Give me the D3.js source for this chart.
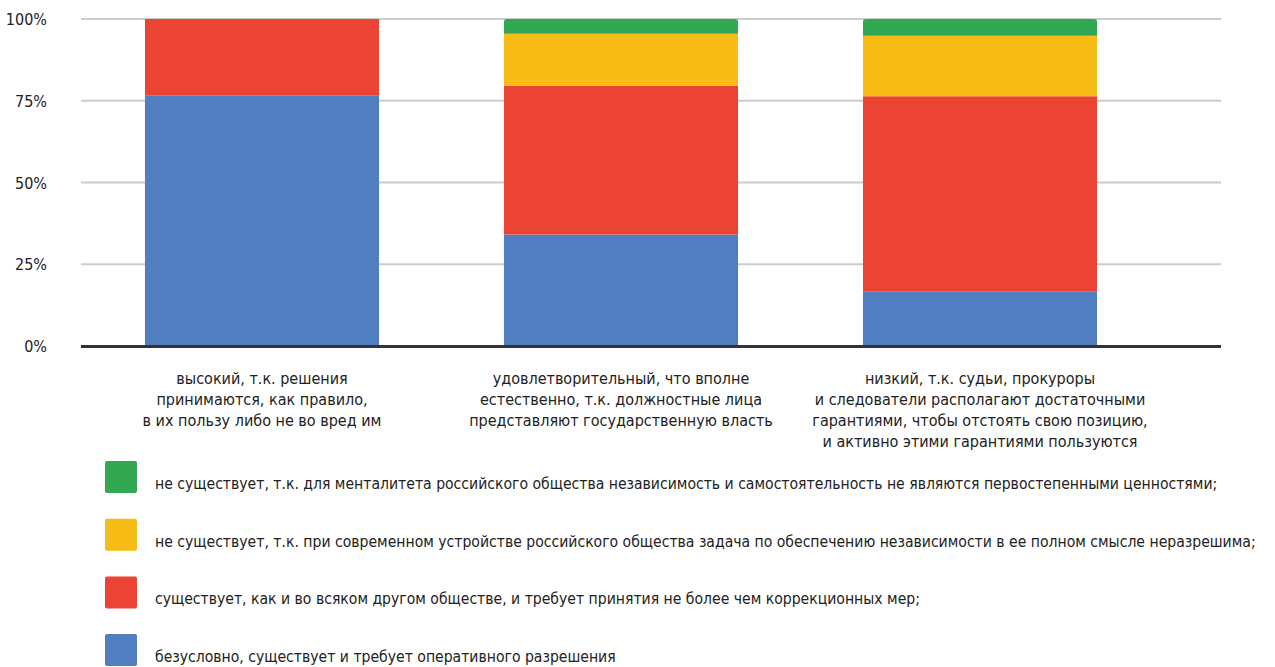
<!DOCTYPE html>
<html>
<head>
<meta charset="utf-8">
<script src="https://cdn.jsdelivr.net/npm/d3@7"></script>
<style>
  body { margin: 0; background: #fff; }
  text { font-family: "DejaVu Sans Condensed", "Liberation Sans Narrow", "Roboto", sans-serif; fill: #222; }
</style>
</head>
<body>
<div id="chart"></div>
<script>
// Data
var categories = ["c1", "c2", "c3"];
var categoryLabels = [
  ["высокий, т.к. решения", "принимаются, как правило,", "в их пользу либо не во вред им"],
  ["удовлетворительный, что вполне", "естественно, т.к. должностные лица", "представляют государственную власть"],
  ["низкий, т.к. судьи, прокуроры", "и следователи располагают достаточными", "гарантиями, чтобы отстоять свою позицию,", "и активно этими гарантиями пользуются"]
];
var blueValues = [76.7, 34.1, 16.6];
var redValues = [23.3, 45.5, 59.8];
var yellowValues = [0, 15.9, 18.5];
var greenValues = [0, 4.5, 5.1];
var seriesNames = [
  "безусловно, существует и требует оперативного разрешения",
  "существует, как и во всяком другом обществе, и требует принятия не более чем коррекционных мер;",
  "не существует, т.к. при современном устройстве российского общества задача по обеспечению независимости в ее полном смысле неразрешима;",
  "не существует, т.к. для менталитета российского общества независимость и самостоятельность не являются первостепенными ценностями;"
];
var seriesColors = ["#517ec1", "#eb4334", "#f8bc17", "#33a853"];
var yTicks = [0, 25, 50, 75, 100];

var width = 1275, height = 667;

var svg = d3.select("#chart").append("svg")
  .attr("width", width)
  .attr("height", height);

// build stack table
var table = categories.map(function(c, i) {
  return { cat: c, s0: blueValues[i], s1: redValues[i], s2: yellowValues[i], s3: greenValues[i] };
});
var keys = ["s0", "s1", "s2", "s3"];
var stacked = d3.stack().keys(keys)(table);

var x_scale = d3.scaleBand()
  .domain(categories)
  .range([82.5, 1159.5])
  .paddingInner(0.348)
  .paddingOuter(0.174);

var y_scale = d3.scaleLinear()
  .domain([0, 100])
  .range([346, 19]);

// gridlines
svg.append("g")
  .selectAll("line")
  .data(yTicks.filter(function(d) { return d > 0; }))
  .enter()
  .append("line")
  .attr("x1", 81)
  .attr("x2", 1221)
  .attr("y1", function(d) { return y_scale(d); })
  .attr("y2", function(d) { return y_scale(d); })
  .attr("stroke", "#cccccc")
  .attr("stroke-width", 2);

// y axis labels
var yaxis = d3.axisLeft(y_scale)
  .tickValues(yTicks)
  .tickSize(0)
  .tickPadding(0)
  .tickFormat(function(d) { return d + "%"; });

svg.append("g")
  .attr("transform", "translate(47,0)")
  .call(yaxis)
  .call(function(g) { g.select(".domain").remove(); })
  .selectAll("text")
  .attr("font-size", 16)
  .attr("dy", "0.35em")
  .style("font-family", "'DejaVu Sans Condensed', sans-serif")
  .attr("fill", "#222");

// bars
var layers = svg.append("g")
  .selectAll("g")
  .data(stacked)
  .enter()
  .append("g")
  .attr("fill", function(d, i) { return seriesColors[i]; });

layers.selectAll("path")
  .data(function(d) { return d.map(function(p) { return { p: p, key: d.key }; }); })
  .enter()
  .append("path")
  .attr("d", function(d) {
    var x0 = x_scale(d.p.data.cat);
    var w = x_scale.bandwidth();
    var yTop = y_scale(d.p[1]);
    var yBot = y_scale(d.p[0]);
    var h = yBot - yTop;
    if (h <= 0) return "";
    var r = d.key === "s3" ? Math.min(3, h) : 0;
    return "M" + x0 + "," + yBot +
      "V" + (yTop + r) +
      (r ? "Q" + x0 + "," + yTop + " " + (x0 + r) + "," + yTop : "") +
      "H" + (x0 + w - r) +
      (r ? "Q" + (x0 + w) + "," + yTop + " " + (x0 + w) + "," + (yTop + r) : "") +
      "V" + yBot + "Z";
  });

// baseline
svg.append("line")
  .attr("x1", 81)
  .attr("x2", 1221)
  .attr("y1", y_scale(0) + 0.5)
  .attr("y2", y_scale(0) + 0.5)
  .attr("stroke", "#333")
  .attr("stroke-width", 3);

// category labels
var catLabels = svg.append("g")
  .selectAll("text")
  .data(categories)
  .enter()
  .append("text")
  .attr("text-anchor", "middle")
  .attr("font-size", 16)
  .attr("x", function(d) { return x_scale(d) + x_scale.bandwidth() / 2; })
  .attr("y", 384);

catLabels.selectAll("tspan")
  .data(function(d, i) { return categoryLabels[i]; })
  .enter()
  .append("tspan")
  .attr("x", function() { return d3.select(this.parentNode).attr("x"); })
  .attr("dy", function(d, i) { return i === 0 ? 0 : 21; })
  .text(function(d) { return d; });

// legend (top item is last series)
var legendOrder = [3, 2, 1, 0];
var legend = svg.append("g")
  .selectAll("g")
  .data(legendOrder)
  .enter()
  .append("g")
  .attr("transform", function(d, i) { return "translate(105," + (461 + i * 57.7) + ")"; });

legend.append("rect")
  .attr("width", 32)
  .attr("height", 32)
  .attr("rx", 2)
  .attr("fill", function(d) { return seriesColors[d]; });

legend.append("text")
  .attr("x", 50)
  .attr("y", 28)
  .attr("font-size", 15.6)
  .text(function(d) { return seriesNames[d]; })
  .each(function() {
    // keep the longest line inside the page
    var maxW = width - 105 - 50 - 4;
    if (this.getComputedTextLength() > maxW) {
      d3.select(this).attr("textLength", maxW).attr("lengthAdjust", "spacingAndGlyphs");
    }
  });
</script>
</body>
</html>
